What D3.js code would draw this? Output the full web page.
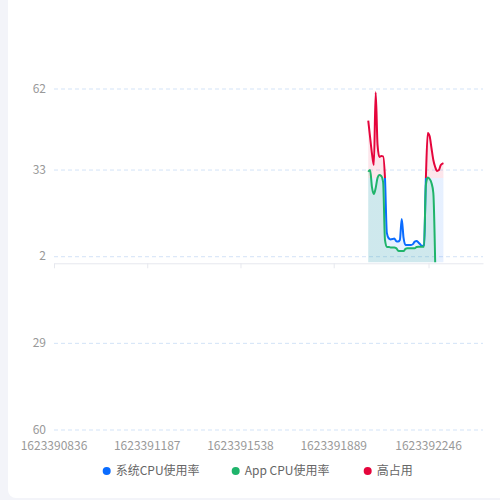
<!DOCTYPE html>
<html><head><meta charset="utf-8">
<script src="https://cdn.jsdelivr.net/npm/d3@7/dist/d3.min.js"></script>
<style>
html,body{margin:0;padding:0;background:#f3f4f9;}
svg{display:block;font-family:"Noto Sans CJK SC","Noto Sans",sans-serif;}
</style></head>
<body>
<svg id="c" width="500" height="500"></svg>
<script>
// ---- data ----
const times = [1623392019,1623392026,1623392033,1623392040,1623392047,1623392054,1623392061,1623392068,1623392075,1623392082,
  1623392089,1623392096,1623392103,1623392110,1623392117,1623392124,1623392131,1623392138,1623392145,1623392152,
  1623392159,1623392166,1623392173,1623392180,1623392187,1623392194,1623392201,1623392208,1623392215,1623392222,
  1623392229,1623392236,1623392243,1623392250,1623392257,1623392264,1623392271,1623392278,1623392285,1623392292,1623392302];
const sysCpu = [50.7,44.7,38.9,34.8,60.8,42.0,37.7,38.0,37.9,30.2,
  10.5,8.6,8.2,8.3,8.5,7.6,7.4,8.0,15.5,8.7,
  6.2,6.2,6.2,6.2,6.5,7.4,7.6,7.1,6.4,5.8,
  6.2,30.2,46.3,45.2,40.9,36.6,34.1,32.7,33.0,34.8,35.5];
const appCpu = [32.4,33.0,26.9,24.4,26.6,30.2,31.2,30.9,28.7,8.0,
  5.5,5.5,5.3,5.3,5.3,5.1,4.2,4.0,4.0,4.0,
  4.8,5.0,5.0,5.0,5.0,5.0,5.5,5.6,5.6,5.6,
  5.6,27.7,30.3,29.8,28.4,24.8,0,null,null,null,null];
const highThreshold = 30;
const yTicks = [62,33,2,-29,-60];
const xTicks = [1623390836,1623391187,1623391538,1623391889,1623392246];
const seriesNames = ["系统CPU使用率","App CPU使用率","高占用"];
const colors = ["#0a6cff","#1fb46b","#e5053c"];

// ---- layout ----
const svg = d3.select("#c");
svg.append("rect").attr("x",8).attr("y",-20).attr("width",520).attr("height",518).attr("rx",8).attr("fill","#fff");

const x = d3.scaleLinear().domain([1623390836,1623392451]).range([54,483]);
const y = d3.scaleLinear().domain([-60,62]).range([430,89]);

// gridlines
svg.append("g").selectAll("line").data(yTicks).join("line")
  .attr("x1",54).attr("x2",483).attr("y1",d=>y(d)).attr("y2",d=>y(d))
  .attr("stroke","#d3e3f7").attr("stroke-dasharray","4,3").attr("stroke-width",1);

// y labels
svg.append("g").selectAll("text").data(yTicks).join("text")
  .attr("x",46).attr("y",d=>y(d)).attr("dy","0.3em").attr("text-anchor","end")
  .attr("font-size",12).attr("fill","#999").text(d=>Math.abs(d));

// x axis line at zero with ticks
const xAxis = svg.append("g").attr("transform",`translate(0,${y(0)+1})`)
  .call(d3.axisBottom(x).tickValues(xTicks).tickSize(5).tickSizeOuter(0).tickFormat(""));
xAxis.select(".domain").attr("stroke","#e6e8ee");
xAxis.selectAll(".tick line").attr("stroke","#e6e8ee");

// x labels
svg.append("g").selectAll("text").data(xTicks).join("text")
  .attr("x",d=>x(d)).attr("y",445.5).attr("dy","0.35em").attr("text-anchor","middle")
  .attr("font-size",12).attr("fill","#999").text(d=>d);

// gradients (visual map by value)
const defs = svg.append("defs");
function grad(id, top, bottom, op){
  const g = defs.append("linearGradient").attr("id",id).attr("gradientUnits","userSpaceOnUse")
    .attr("x1",0).attr("x2",0).attr("y1",y(62)).attr("y2",y(-60));
  const off = (y(highThreshold)-y(62))/(y(-60)-y(62));
  g.append("stop").attr("offset",off).attr("stop-color",top).attr("stop-opacity",op);
  g.append("stop").attr("offset",off).attr("stop-color",bottom).attr("stop-opacity",op);
}
grad("lineG", colors[2], colors[0], 1);
grad("areaG", colors[2], colors[0], 0.1);

const sysData = times.map((t,i)=>({t,v:sysCpu[i]}));
const appData = times.map((t,i)=>({t,v:appCpu[i]}));
const curve = d3.curveMonotoneX;
const area = d3.area().defined(d=>d.v!=null).x(d=>x(d.t)).y0(y(0)).y1(d=>y(d.v)).curve(curve);
const line = d3.line().defined(d=>d.v!=null).x(d=>x(d.t)).y(d=>y(d.v)).curve(curve);

svg.append("path").datum(sysData).attr("d",area).attr("fill","url(#areaG)");
svg.append("path").datum(appData).attr("d",area).attr("fill",colors[1]).attr("fill-opacity",0.12);
svg.append("path").datum(sysData).attr("d",line).attr("fill","none").attr("stroke","url(#lineG)").attr("stroke-width",2).attr("stroke-linejoin","round");
svg.append("path").datum(appData).attr("d",line).attr("fill","none").attr("stroke",colors[1]).attr("stroke-width",2).attr("stroke-linejoin","round");

// legend
const legX = [106.7,235.7,367.7];
const leg = svg.append("g").selectAll("g").data(seriesNames).join("g")
  .attr("transform",(d,i)=>`translate(${legX[i]},471)`);
leg.append("circle").attr("r",4).attr("fill",(d,i)=>colors[i]);
leg.append("text").attr("x",9).attr("dy","0.35em").attr("font-size",12).attr("fill","#666").text(d=>d);
</script>
</body></html>
